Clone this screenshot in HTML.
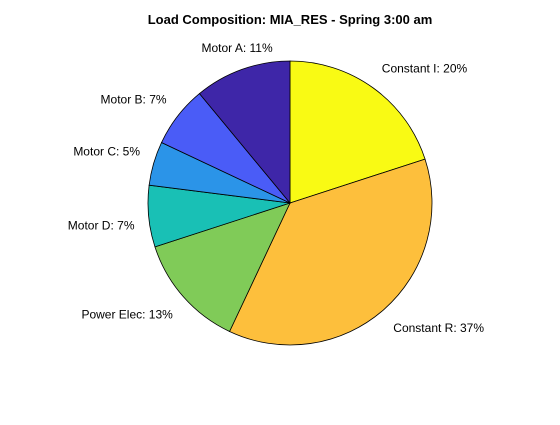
<!DOCTYPE html>
<html><head><meta charset="utf-8"><style>
body{margin:0;background:#fff;}
svg text{font-family:"Liberation Sans",sans-serif;}
</style></head><body>
<svg id="chart" width="560" height="420" xmlns="http://www.w3.org/2000/svg">
<rect width="560" height="420" fill="#fff"/>
<text x="290" y="24" text-anchor="middle" font-size="13" font-weight="bold" fill="#000">Load Composition: MIA_RES - Spring 3:00 am</text>
<g id="slices"></g>
<g id="labels"></g>
</svg>
<script>
const categories = ["Constant I","Constant R","Power Elec","Motor D","Motor C","Motor B","Motor A"];
const values = [20,37,13,7,5,7,11];
const colors = ["#f9fa14","#fdbf3c","#80cb58","#19c0b5","#2b94e8","#4a5cf7","#3e26a8"];
const cx=290, cy=203, r=142;
const total = values.reduce((a,b)=>a+b,0);
const NS="http://www.w3.org/2000/svg";
const gS=document.getElementById('slices'), gL=document.getElementById('labels');
function pt(frac,rad){const a=Math.PI/2-frac*2*Math.PI;return [cx+rad*Math.cos(a), cy-rad*Math.sin(a), a];}
let acc=0;
values.forEach((v,i)=>{
  const f0=acc/total, f1=(acc+v)/total; acc+=v;
  const p0=pt(f0,r), p1=pt(f1,r);
  const large=(f1-f0)>0.5?1:0;
  const path=document.createElementNS(NS,'path');
  path.setAttribute('d',`M${cx},${cy} L${p0[0]},${p0[1]} A${r},${r} 0 ${large} 1 ${p1[0]},${p1[1]} Z`);
  path.setAttribute('fill',colors[i]);
  path.setAttribute('stroke','#000');
  path.setAttribute('stroke-width','0.8');
  
  
  gS.appendChild(path);
  const pm=pt((f0+f1)/2, r*1.1);
  const t=document.createElementNS(NS,'text');
  const cosA=Math.cos(pm[2]), sinA=Math.sin(pm[2]);
  t.setAttribute('x',pm[0]);
  t.setAttribute('y', sinA>=0 ? pm[1]-4 : pm[1]+12);
  t.setAttribute('text-anchor', Math.abs(cosA)<0.4 ? 'middle' : (cosA>=0?'start':'end'));
  t.setAttribute('font-size','12');
  t.setAttribute('fill','#000');
  t.textContent=categories[i]+': '+Math.round(v/total*100)+'%';
  
  
  gL.appendChild(t);
});
</script>
</body></html>
